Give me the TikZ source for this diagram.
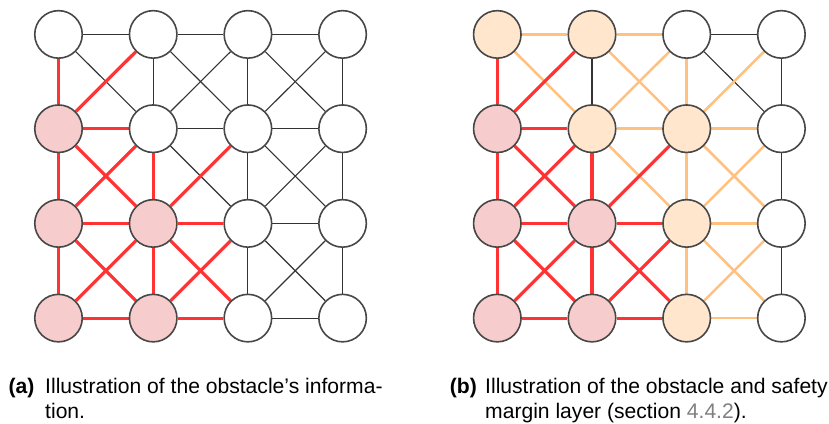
\documentclass[tikz,border=0pt]{standalone}
\usepackage{fontspec}
\setmainfont{Liberation Sans}
\usetikzlibrary{backgrounds}
\begin{document}
\begin{tikzpicture}[x=1pt,y=-1pt,
  cell/.style={circle,draw=black!72,line width=1.6pt,minimum size=47.5pt,inner sep=0pt,fill=white},
  obst/.style={cell,fill=obstfill},
  safe/.style={cell,fill=safefill},
  plain/.style={draw=black!80,line width=1.1pt},
  hot/.style={draw=edgered,line width=3.2pt},
  warm/.style={draw=edgeorange,line width=2.5pt},
  captext/.style={inner sep=0pt,font=\fontsize{21.1}{25}\selectfont}]
\definecolor{obstfill}{HTML}{F6CDCC}
\definecolor{safefill}{HTML}{FFE6CC}
\definecolor{edgered}{HTML}{FF3333}
\definecolor{edgeorange}{HTML}{FFC080}
\definecolor{refgray}{HTML}{808080}
\useasboundingbox (0,0) rectangle (829,423);

% node positions of the two 4x4 grids (column c, row r from the top)
\foreach \c/\xa/\xb in {0/58.5/497.3,1/153.2/592,2/247.9/686.7,3/342.6/781.4}
  \foreach \r/\y in {0/34.4,1/128.7,2/223.4,3/318.1} {
    \coordinate (PL-\c-\r) at (\xa,\y);
    \coordinate (PR-\c-\r) at (\xb,\y);
  }

% ---- left grid: free cells and obstacle cells ----
\foreach \c/\r in {0/0,1/0,2/0,3/0,1/1,2/1,3/1,2/2,3/2,2/3,3/3}
  \node[cell] (L-\c-\r) at (PL-\c-\r) {};
\foreach \c/\r in {0/1,0/2,0/3,1/2,1/3}
  \node[obst] (L-\c-\r) at (PL-\c-\r) {};

% ---- right grid: free, obstacle and safety margin cells ----
\foreach \c/\r in {2/0,3/0,3/1,3/2,3/3}
  \node[cell] (R-\c-\r) at (PR-\c-\r) {};
\foreach \c/\r in {0/1,0/2,0/3,1/2,1/3}
  \node[obst] (R-\c-\r) at (PR-\c-\r) {};
\foreach \c/\r in {0/0,1/0,1/1,2/1,2/2,2/3}
  \node[safe] (R-\c-\r) at (PR-\c-\r) {};

% ---- edges (behind the nodes) ----
\begin{scope}[on background layer]
  % left grid: edges between free cells
  \foreach \a/\b/\c/\d in {
      0/0/1/0, 1/0/2/0, 2/0/3/0, 1/1/2/1, 2/1/3/1, 2/2/3/2, 2/3/3/3,
      1/0/1/1, 2/0/2/1, 2/1/2/2, 2/2/2/3, 3/0/3/1, 3/1/3/2, 3/2/3/3,
      0/0/1/1, 1/0/2/1, 2/0/3/1, 1/1/2/2, 2/1/3/2, 2/2/3/3,
      2/0/1/1, 3/0/2/1, 3/1/2/2, 3/2/2/3}
    \draw[plain] (L-\a-\b) -- (L-\c-\d);
  % right grid: edges between free cells
  \foreach \a/\b/\c/\d in {2/0/3/0, 1/0/1/1, 3/0/3/1, 3/1/3/2, 3/2/3/3, 2/0/3/1}
    \draw[plain] (R-\a-\b) -- (R-\c-\d);
  % right grid: edges touching the safety margin
  \foreach \a/\b/\c/\d in {
      0/0/1/0, 1/0/2/0, 1/1/2/1, 2/1/3/1, 2/2/3/2, 2/3/3/3,
      2/0/2/1, 2/1/2/2, 2/2/2/3,
      0/0/1/1, 1/0/2/1, 1/1/2/2, 2/1/3/2, 2/2/3/3,
      2/0/1/1, 3/0/2/1, 3/1/2/2, 3/2/2/3}
    \draw[warm] (R-\a-\b) -- (R-\c-\d);
  % both grids: edges touching an obstacle
  \foreach \g in {L,R}
    \foreach \a/\b/\c/\d in {
        0/1/1/1, 0/2/1/2, 1/2/2/2, 0/3/1/3, 1/3/2/3,
        0/0/0/1, 0/1/0/2, 0/2/0/3, 1/1/1/2, 1/2/1/3,
        0/1/1/2, 0/2/1/3, 1/2/2/3,
        1/0/0/1, 1/1/0/2, 1/2/0/3, 2/1/1/2, 2/2/1/3}
      \draw[hot] (\g-\a-\b) -- (\g-\c-\d);
\end{scope}

% ---- captions ----
\node[captext,anchor=base east] (capa) at (34.5,393) {\textbf{(a)}};
\node[captext,anchor=base west] (capa1) at (45,393) {Illustration of the obstacle’s informa-};
\node[captext,anchor=base west] (capa2) at (45,418) {tion.};
\node[captext,anchor=base east] (capb) at (477,393) {\textbf{(b)}};
\node[captext,anchor=base west] (capb1) at (485,393) {Illustration of the obstacle and safety};
\node[captext,anchor=base west] (capb2) at (485,418) {margin layer (section \textcolor{refgray}{4.4.2}).};
\end{tikzpicture}
\end{document}
